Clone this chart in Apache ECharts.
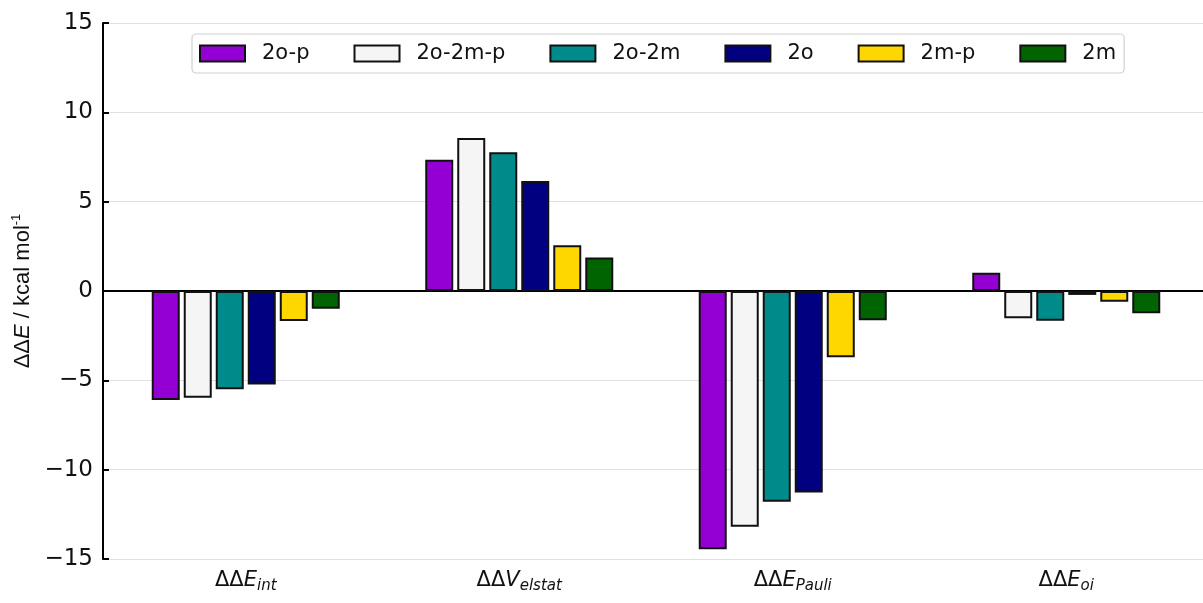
<!DOCTYPE html>
<html>
<head>
<meta charset="utf-8">
<script src="https://cdn.jsdelivr.net/npm/echarts@6/dist/echarts.min.js"></script>
<style>
  html, body { margin: 0; padding: 0; background: #fff; }
  #chart { width: 1203px; height: 603px; }
</style>
</head>
<body>
<div id="chart"></div>
<script>
// Energy decomposition terms (x categories) and their rich-text labels
const categories = ['int', 'elstat', 'Pauli', 'oi'];
const categoryLabels = [
  '{d|ΔΔ}{e|E}{s|int}',
  '{d|ΔΔ}{e|V}{s|elstat}',
  '{d|ΔΔ}{e|E}{s|Pauli}',
  '{d|ΔΔ}{e|E}{s|oi}'
];

// Series names and fill colours
const seriesNames = ['2o-p', '2o-2m-p', '2o-2m', '2o', '2m-p', '2m'];
const seriesColors = ['#9400d3', '#f5f5f5', '#008b8b', '#000080', '#ffd700', '#006400'];

// ΔΔE values in kcal/mol, one array per series (int, elstat, Pauli, oi)
const v2op   = [-6.10,  7.35, -14.46,  1.02];
const v2o2mp = [-5.97,  8.56, -13.19, -1.53];
const v2o2m  = [-5.50,  7.76, -11.79, -1.66];
const v2o    = [-5.24,  6.16, -11.28, -0.22];
const v2mp   = [-1.68,  2.56,  -3.71, -0.60];
const v2m    = [-0.99,  1.87,  -1.64, -1.25];
const seriesValues = [v2op, v2o2mp, v2o2m, v2o, v2mp, v2m];

// y axis range
const yMin = -15, yMax = 15, yStep = 5;

const chart = echarts.init(document.getElementById('chart'), null, { renderer: 'canvas' });

const series = seriesNames.map((name, i) => ({
  name: name,
  type: 'bar',
  data: seriesValues[i],
  barWidth: 28,
  barGap: '14.3%',
  itemStyle: {
    color: seriesColors[i],
    borderColor: '#111',
    borderWidth: 2
  },
  emphasis: { disabled: true }
}));

chart.setOption({
  animation: false,
  backgroundColor: '#ffffff',
  grid: { left: 109, top: 23, width: 1096, height: 536, containLabel: false },
  legend: {
    data: seriesNames,
    left: 192,
    top: 34,
    padding: [9, 8, 9, 7],
    itemGap: 44,
    itemWidth: 45,
    itemHeight: 16,
    icon: 'rect',
    borderColor: '#d0d0d0',
    borderWidth: 1.2,
    borderRadius: 4,
    backgroundColor: 'rgba(255,255,255,0.85)',
    itemStyle: { borderColor: '#111', borderWidth: 2 },
    textStyle: {
      fontFamily: 'DejaVu Sans',
      fontSize: 21,
      color: '#111',
      padding: [0, 0, 0, 12]
    }
  },
  xAxis: {
    type: 'category',
    data: categories,
    axisLine: { show: true, onZero: true, lineStyle: { color: '#000', width: 2 } },
    axisTick: { show: false },
    splitLine: { show: false },
    axisLabel: {
      margin: 11,
      formatter: (val, idx) => categoryLabels[idx],
      rich: {
        d: { fontFamily: 'DejaVu Sans', fontSize: 21, lineHeight: 22, verticalAlign: 'top', color: '#111' },
        e: { fontFamily: 'DejaVu Sans', fontStyle: 'italic', fontSize: 21, lineHeight: 22, verticalAlign: 'top', color: '#111' },
        s: { fontFamily: 'DejaVu Sans', fontStyle: 'italic', fontSize: 15, lineHeight: 15, padding: [9, 0, 0, 0], verticalAlign: 'top', color: '#111' }
      }
    }
  },
  yAxis: {
    type: 'value',
    min: yMin,
    max: yMax,
    interval: yStep,
    offset: 6,
    axisLine: { show: true, lineStyle: { color: '#000', width: 2 } },
    axisTick: { show: true, inside: true, length: 6, lineStyle: { color: '#000', width: 2 } },
    axisLabel: {
      margin: 10,
      fontFamily: 'DejaVu Sans',
      fontSize: 23,
      color: '#111',
      formatter: v => (v < 0 ? '\u2212' + Math.abs(v) : String(v))
    },
    splitLine: { show: true, lineStyle: { color: '#e0e0e0', width: 1.2 } },
    name: '{d|ΔΔ}{e|E}{d| / kcal mol}{u|-1}',
    nameLocation: 'middle',
    nameGap: 60,
    nameRotate: 90,
    nameTextStyle: {
      rich: {
        d: { fontFamily: 'Liberation Sans', fontSize: 22, lineHeight: 24, verticalAlign: 'bottom', color: '#111' },
        e: { fontFamily: 'Liberation Sans', fontStyle: 'italic', fontSize: 22, lineHeight: 24, verticalAlign: 'bottom', color: '#111' },
        u: { fontFamily: 'Liberation Sans', fontSize: 13, lineHeight: 13, verticalAlign: 'top', color: '#111' }
      }
    }
  },
  series: series
});
</script>
</body>
</html>
